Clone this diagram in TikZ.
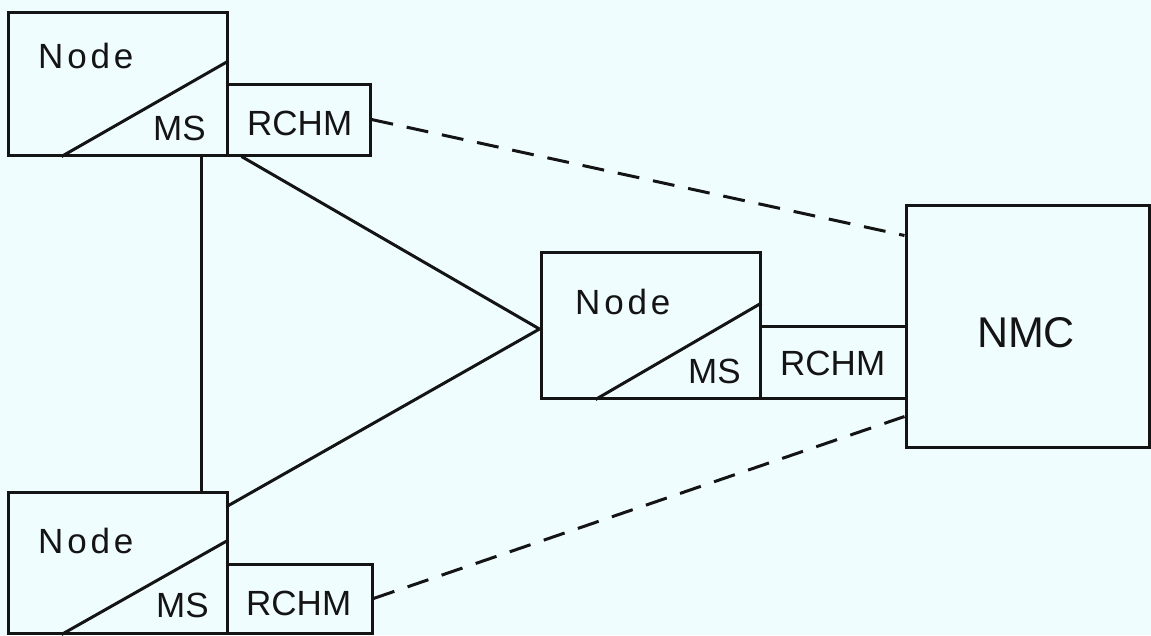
\documentclass[tikz,border=0pt]{standalone}
\usepackage{fontspec}
\setmainfont{Liberation Sans}
\definecolor{bg}{RGB}{240,253,255}
\definecolor{ink}{RGB}{20,20,20}
\begin{document}
\begin{tikzpicture}[x=1pt,y=-1pt,
  box/.style={draw=ink,line width=3pt,inner sep=0pt,fill=none},
  lbl/.style={inner sep=0pt,anchor=base west,text=ink,font=\fontsize{35}{40}\selectfont},
  spaced/.style={inner sep=0pt,anchor=base west,text=ink,font=\fontsize{35}{40}\selectfont\addfontfeature{LetterSpace=11}},
  link/.style={draw=ink,line width=3pt},
  dlink/.style={draw=ink,line width=3pt,dash pattern=on 22pt off 14pt}]
\fill[bg] (0,0) rectangle (1151,635);
\useasboundingbox (0,0) rectangle (1151,635);
% boxes
\node[box,minimum width=219pt,minimum height=143pt] (n1) at (117.5,83.5) {};
\node[box,minimum width=143pt,minimum height=71pt] (r1) at (298.5,119.5) {};
\node[box,minimum width=219pt,minimum height=146pt] (n2) at (650.5,325) {};
\node[box,minimum width=146pt,minimum height=72pt] (r2) at (833,362) {};
\node[box,minimum width=243pt,minimum height=242pt] (nmc) at (1027.5,326) {};
\node[box,minimum width=219pt,minimum height=141pt] (n3) at (117.5,562.5) {};
\node[box,minimum width=145pt,minimum height=69pt] (r3) at (299.5,598.5) {};
% diagonals
\draw[link] ([xshift=55pt]n1.south west) -- ([yshift=22.5pt]n1.east);
\draw[link] ([xshift=56pt]n2.south west) -- ([yshift=22pt]n2.east);
\draw[link] ([xshift=55pt]n3.south west) -- ([yshift=22.5pt]n3.east);
% labels
\node[spaced] (t1) at (38,68) {Node};
\node[lbl] (m1) at (153,140) {MS};
\node[lbl] (c1) at (247,135) {RCHM};
\node[spaced] (t2) at (575,314) {Node};
\node[lbl] (m2) at (688,383) {MS};
\node[lbl] (c2) at (780,375) {RCHM};
\node[spaced] (t3) at (38,553) {Node};
\node[lbl] (m3) at (156,617) {MS};
\node[lbl] (c3) at (246,615) {RCHM};
\node[inner sep=0pt,anchor=base,text=ink,font=\fontsize{43}{48}\selectfont] (tn) at (1026,347) {NMC};
% connectors
\draw[link] ([xshift=83.5pt]n1.south) -- ([xshift=83.5pt]n3.north);
\draw[link] ([xshift=13pt]n1.south east) -- ([yshift=-4pt]n2.west);
\draw[link] ([yshift=-15pt]n3.north east) -- ([yshift=-4pt]n2.west);
\draw[dlink] (r1.east) -- ([yshift=-32pt]nmc.north west);
\draw[dlink] (r3.east) -- ([yshift=32pt]nmc.south west);
\end{tikzpicture}
\end{document}
